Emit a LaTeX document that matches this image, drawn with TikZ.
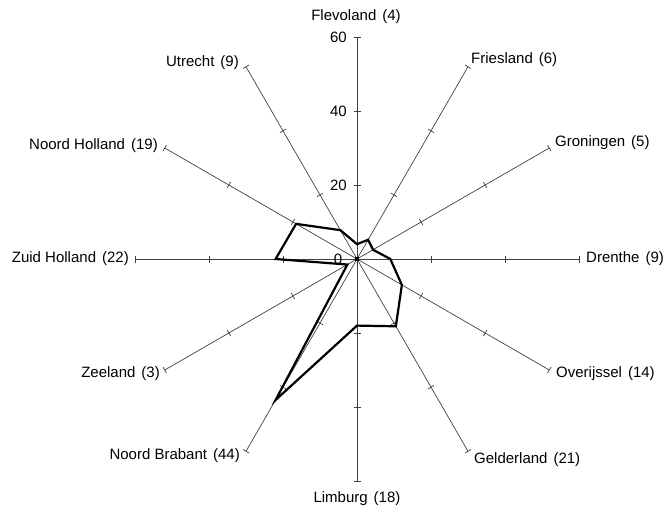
\documentclass[tikz,border=0pt]{standalone}
\usepackage{fontspec}
\setmainfont{Liberation Sans}
\usetikzlibrary{calc}
\begin{document}
\begin{tikzpicture}[x=1pt,y=1pt,
  axis/.style={line width=0.7pt, draw=black!75},
  datapoly/.style={line width=2.2pt, line join=miter, draw=black},
  lab/.style={font=\fontsize{15}{17}\selectfont, inner sep=1pt},
  num/.style={font=\fontsize{15}{17}\selectfont, inner sep=1pt}]
\useasboundingbox (0,0) rectangle (667,-511);
\coordinate (c) at (357,-259);
% axes with ticks
\foreach \a/\n in {90/fle,60/fri,30/gro,0/dre,-30/ove,-60/gel,-90/lim,-120/nbr,-150/zee,180/zho,150/nho,120/utr} {
  \coordinate (\n) at ($(c)+(\a:222)$);
  \draw[axis] (c) -- (\n);
  \foreach \r in {74,148,222}
    \draw[axis] ($(c)+(\a:\r)+(\a+90:3.5)$) -- ($(c)+(\a:\r)+(\a-90:3.5)$);
}
% data polygon (unit = 3.7)
\foreach \a/\v/\k in {90/4/1,60/6/2,30/5/3,0/9/4,-30/14/5,-60/21/6,-90/18/7,-120/44/8,-150/3/9,180/22/10,150/19/11,120/9/12}
  \coordinate (p\k) at ($(c)+(\a:3.7*\v)$);
\draw[datapoly] (p1) -- (p2) -- (p3) -- (p4) -- (p5) -- (p6) -- (p7) -- (p8) -- (p9) -- (p10) -- (p11) -- (p12) -- cycle;
% centre
\node[fill=black, minimum size=4pt, inner sep=0pt] (ctr) at (c) {};
% scale numbers
\node[num, anchor=east] (n60) at (348,-37) {60};
\node[num, anchor=east] (n40) at (348,-111) {40};
\node[num, anchor=east] (n20) at (348,-185) {20};
\node[num] (n0) at (338,-259) {0};
% labels
\node[lab, anchor=south] (lfle) at (356,-25) {Flevoland\hspace{0.4em}(4)};
\node[lab, anchor=west] (lfri) at (470,-60) {Friesland\hspace{0.4em}(6)};
\node[lab, anchor=west] (lgro) at (554,-143) {Groningen\hspace{0.4em}(5)};
\node[lab, anchor=west] (ldre) at (585,-259) {Drenthe\hspace{0.4em}(9)};
\node[lab, anchor=west] (love) at (555,-374) {Overijssel\hspace{0.4em}(14)};
\node[lab, anchor=west] (lgel) at (473,-460) {Gelderland\hspace{0.4em}(21)};
\node[lab, anchor=north] (llim) at (357,-490) {Limburg\hspace{0.4em}(18)};
\node[lab, anchor=east] (lnbr) at (241,-456) {Noord Brabant\hspace{0.4em}(44)};
\node[lab, anchor=east] (lzee) at (161,-374) {Zeeland\hspace{0.4em}(3)};
\node[lab, anchor=east] (lzho) at (130,-259) {Zuid Holland\hspace{0.4em}(22)};
\node[lab, anchor=east] (lnho) at (159,-146) {Noord Holland\hspace{0.4em}(19)};
\node[lab, anchor=east] (lutr) at (240,-63) {Utrecht\hspace{0.4em}(9)};
\end{tikzpicture}
\end{document}
